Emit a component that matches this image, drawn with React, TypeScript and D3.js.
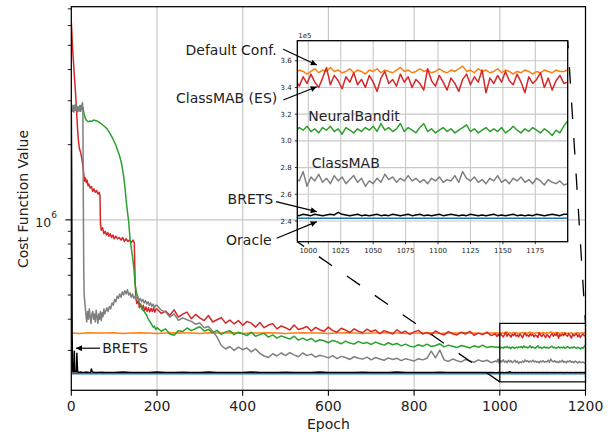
import React from 'react';
import * as d3 from 'd3';

const FONT = '"DejaVu Sans", sans-serif';

// ---------- values (units of 1e5) ----------
const X_TICKS = [0, 200, 400, 600, 800, 1000, 1200];
const INSET_X_TICKS = [1000, 1025, 1050, 1075, 1100, 1125, 1150, 1175];
const INSET_Y_TICKS = [2.4, 2.6, 2.8, 3.0, 3.2, 3.4, 3.6];

const MID_EPOCHS = d3.range(200, 1000, 10);
const ORANGE_EPOCHS = d3.range(0, 1000, 20);
const BRETS_MID_EPOCHS = d3.range(80, 1000, 20);
const INSET_EPOCHS = d3.range(990, 1201, 3);

const RED_EARLY: [number, number][] = [[0,62],[1,58],[2,53],[3,49],[5,43],[7,38],[9,34],[11,30],[13,26],[15,22.5],[17,20.5],[19,19.3],[21,18.8],[23,18.2],[25,17.4],[27,16.5],[29,15.3],[31,14.3],[33,14.7],[35,14.1],[37,14.4],[39,13.7],[41,13.9],[44,13.4],[47,13.6],[50,13.0],[53,13.3],[56,12.9],[59,13.1],[62,12.7],[65,12.9],[67,12.5],[68,9.6],[70,9.1],[73,9.3],[76,8.8],[79,9.0],[82,8.7],[85,8.9],[88,8.6],[91,8.8],[94,8.5],[97,8.7],[100,8.4],[104,8.6],[108,8.4],[112,8.5],[116,8.3],[120,8.5],[124,8.2],[128,8.4],[132,8.2],[136,8.3],[140,8.1],[144,8.3],[147,8.1],[149,5.6],[151,4.8],[153,4.62],[156,4.75],[159,4.45],[162,4.6],[165,4.38],[168,4.55],[171,4.32],[174,4.48],[177,4.3],[180,4.45],[183,4.28],[186,4.42],[189,4.3],[192,4.44],[195,4.27],[198,4.4]];
const RED_MID = [
  4.40, 4.22, 4.31, 4.15, 4.36, 4.08, 4.19, 4.27, 4.02, 4.18,
  4.05, 3.95, 4.14, 3.90, 3.98, 4.06, 3.86, 3.97, 3.83, 3.95,
  3.78, 3.92, 3.86, 3.72, 3.88, 3.70, 3.79, 3.84, 3.66, 3.76,
  3.70, 3.62, 3.79, 3.64, 3.68, 3.74, 3.59, 3.71, 3.63, 3.58,
  3.72, 3.60, 3.55, 3.68, 3.62, 3.54, 3.66, 3.58, 3.53, 3.65,
  3.57, 3.62, 3.50, 3.60, 3.55, 3.49, 3.63, 3.53, 3.58, 3.48,
  3.56, 3.61, 3.49, 3.54, 3.47, 3.59, 3.51, 3.46, 3.57, 3.50,
  3.46, 3.55, 3.49, 3.58, 3.45, 3.52, 3.47, 3.55, 3.44, 3.50,
];
const RED_INSET = [
  3.46, 3.41, 3.48, 3.43, 3.50, 3.44, 3.40, 3.47, 3.55, 3.42,
  3.49, 3.45, 3.39, 3.48, 3.44, 3.51, 3.42, 3.46, 3.40, 3.49,
  3.44, 3.37, 3.47, 3.52, 3.43, 3.46, 3.41, 3.50, 3.44, 3.48,
  3.40, 3.46, 3.43, 3.38, 3.54, 3.45, 3.41, 3.49, 3.44, 3.38,
  3.47, 3.43, 3.37, 3.46, 3.50, 3.42, 3.48, 3.44, 3.53, 3.36,
  3.47, 3.43, 3.49, 3.44, 3.52, 3.45, 3.42, 3.50, 3.44, 3.36,
  3.48, 3.43, 3.46, 3.51, 3.40, 3.47, 3.38, 3.45, 3.49, 3.43,
  3.44,
];

const ORANGE_MAIN = [
  3.52, 3.51, 3.53, 3.52, 3.52, 3.53, 3.51, 3.52, 3.53, 3.52,
  3.51, 3.52, 3.53, 3.52, 3.52, 3.51, 3.53, 3.52, 3.52, 3.53,
  3.51, 3.52, 3.52, 3.53, 3.52, 3.51, 3.52, 3.53, 3.52, 3.52,
  3.51, 3.52, 3.53, 3.52, 3.51, 3.52, 3.52, 3.53, 3.52, 3.51,
  3.52, 3.52, 3.53, 3.51, 3.52, 3.52, 3.53, 3.52, 3.51, 3.52,
];
const ORANGE_INSET = [
  3.51, 3.53, 3.52, 3.50, 3.52, 3.54, 3.51, 3.53, 3.52, 3.55,
  3.52, 3.53, 3.51, 3.52, 3.54, 3.51, 3.53, 3.52, 3.50, 3.53,
  3.52, 3.54, 3.51, 3.53, 3.52, 3.51, 3.53, 3.55, 3.52, 3.53,
  3.51, 3.52, 3.54, 3.52, 3.53, 3.51, 3.52, 3.54, 3.52, 3.51,
  3.53, 3.52, 3.54, 3.56, 3.52, 3.53, 3.51, 3.54, 3.52, 3.53,
  3.51, 3.52, 3.54, 3.51, 3.53, 3.52, 3.50, 3.52, 3.51, 3.53,
  3.52, 3.50, 3.52, 3.51, 3.53, 3.52, 3.51, 3.53, 3.52, 3.52,
  3.53,
];

const GREEN_EARLY: [number, number][] = [[0,28],[3,28.6],[6,27.4],[9,28.9],[12,27.5],[15,28.4],[18,27.2],[21,28.7],[24,27.7],[27,28.3],[30,26.5],[33,25.4],[36,25.0],[40,24.7],[44,24.9],[48,24.8],[52,25.1],[56,25.0],[60,24.9],[64,24.6],[68,24.4],[72,24.1],[77,23.7],[83,23.2],[88,22.5],[92,21.9],[96,21.3],[100,20.6],[104,19.9],[108,19.0],[112,18.2],[116,17.2],[119,16.2],[122,15.0],[125,13.6],[128,12.0],[131,10.8],[134,9.8],[137,8.4],[140,7.7],[143,7.1],[146,6.4],[149,5.5],[152,5.1],[155,4.95],[158,4.7],[161,4.55],[164,4.5],[167,4.35],[170,4.3],[173,4.22],[176,4.15],[179,4.02],[182,3.95],[185,3.88],[188,3.8],[191,3.72],[194,3.76],[197,3.64]];
const GREEN_MID = [
  3.70, 3.58, 3.66, 3.49, 3.45, 3.60, 3.57, 3.69, 3.60, 3.67,
  3.73, 3.59, 3.64, 3.53, 3.61, 3.48, 3.56, 3.60, 3.47, 3.55,
  3.50, 3.44, 3.55, 3.42, 3.47, 3.51, 3.39, 3.46, 3.36, 3.43,
  3.38, 3.33, 3.42, 3.30, 3.36, 3.29, 3.35, 3.25, 3.31, 3.28,
  3.22, 3.29, 3.25, 3.19, 3.27, 3.21, 3.18, 3.26, 3.20, 3.23,
  3.17, 3.24, 3.19, 3.15, 3.22, 3.16, 3.20, 3.13, 3.18, 3.12,
  3.10, 3.16, 3.12, 3.18, 3.11, 3.14, 3.19, 3.10, 3.15, 3.12,
  3.08, 3.14, 3.11, 3.07, 3.13, 3.09, 3.15, 3.08, 3.11, 3.09,
];
const GREEN_INSET = [
  3.07, 3.10, 3.08, 3.11, 3.07, 3.09, 3.06, 3.10, 3.08, 3.11,
  3.07, 3.09, 3.05, 3.10, 3.08, 3.06, 3.09, 3.07, 3.10, 3.08,
  3.11, 3.07, 3.13, 3.08, 3.10, 3.07, 3.09, 3.13, 3.07, 3.10,
  3.08, 3.06, 3.10, 3.13, 3.07, 3.09, 3.06, 3.08, 3.10, 3.07,
  3.09, 3.06, 3.08, 3.10, 3.12, 3.07, 3.09, 3.06, 3.08, 3.10,
  3.07, 3.09, 3.07, 3.10, 3.06, 3.08, 3.11, 3.08, 3.06, 3.09,
  3.07, 3.10, 3.08, 3.06, 3.09, 3.07, 3.04, 3.08, 3.06, 3.11,
  3.15,
];

const GRAY_EARLY: [number, number][] = [[0,28],[2,27.2],[4,28.8],[6,27.0],[8,28.5],[10,27.4],[12,29.0],[14,27.1],[16,28.3],[18,27.5],[20,28.7],[22,27.2],[24,28.4],[26,29.5],[27,28.0],[28,12],[29,6.5],[30,5.0],[32,4.6],[34,4.2],[36,3.9],[38,4.3],[40,4.0],[42,4.4],[44,4.1],[46,3.85],[48,4.2],[50,4.3],[52,4.0],[54,4.2],[56,3.9],[58,4.35],[60,4.1],[62,3.85],[64,4.2],[66,4.0],[68,4.3],[70,3.95],[72,4.25],[74,4.1],[76,4.4],[78,4.2],[80,4.3],[83,4.45],[86,4.3],[89,4.5],[92,4.4],[95,4.65],[98,4.55],[101,4.8],[104,4.7],[107,4.95],[110,4.85],[113,5.05],[116,4.9],[119,5.15],[122,5.0],[125,5.2],[128,5.05],[131,5.25],[134,5.0],[137,5.1],[140,4.9],[143,5.05],[146,4.85],[149,4.95],[152,4.8],[155,4.9],[158,4.75],[161,4.85],[164,4.7],[167,4.8],[170,4.65],[173,4.75],[176,4.6],[179,4.7],[182,4.55],[185,4.65],[188,4.5],[191,4.6],[194,4.45],[197,4.55]];
const GRAY_MID = [
  4.55, 4.34, 4.28, 4.08, 4.20, 3.96, 4.05, 3.98, 3.92, 3.82,
  3.86, 3.70, 3.74, 3.58, 3.40, 3.14, 3.04, 3.11, 3.00, 3.09,
  3.02, 3.07, 2.96, 3.04, 2.92, 2.85, 2.81, 2.91, 2.85, 2.93,
  2.86, 2.94, 2.88, 2.83, 2.93, 2.86, 2.90, 2.82, 2.87, 2.84,
  2.80, 2.86, 2.78, 2.84, 2.81, 2.76, 2.83, 2.79, 2.77, 2.82,
  2.75, 2.81, 2.77, 2.74, 2.80, 2.76, 2.79, 2.73, 2.78, 2.75,
  2.72, 2.78, 2.75, 2.79, 2.98, 2.80, 3.01, 2.75, 2.71, 2.77,
  2.73, 2.70, 2.76, 2.72, 2.69, 2.75, 2.71, 2.74, 2.68, 2.72,
];
const GRAY_INSET = [
  2.72, 2.70, 2.77, 2.66, 2.73, 2.70, 2.75, 2.69, 2.72, 2.68,
  2.74, 2.70, 2.73, 2.68, 2.71, 2.74, 2.69, 2.72, 2.66, 2.70,
  2.68, 2.72, 2.69, 2.75, 2.71, 2.73, 2.69, 2.72, 2.70, 2.74,
  2.70, 2.72, 2.69, 2.71, 2.68, 2.72, 2.70, 2.73, 2.69, 2.71,
  2.70, 2.74, 2.69, 2.77, 2.72, 2.70, 2.73, 2.69, 2.71, 2.68,
  2.72, 2.70, 2.74, 2.69, 2.71, 2.68, 2.72, 2.70, 2.73, 2.69,
  2.71, 2.68, 2.72, 2.70, 2.67, 2.71, 2.69, 2.68, 2.70, 2.67,
  2.68,
];

const BRETS_EARLY: [number, number][] = [[0,28],[1,14],[2,3.4],[3,2.5],[4,2.46],[5,2.47],[6,2.46],[7,2.98],[8,2.52],[9,2.46],[11,2.47],[12,2.46],[13,2.92],[14,2.6],[15,2.46],[18,2.45],[22,2.46],[26,2.45],[30,2.45],[35,2.46],[40,2.45],[45,2.45],[47,2.53],[49,2.46],[55,2.45],[60,2.45],[70,2.455]];
const BRETS_MID = [
  2.45, 2.45, 2.46, 2.45, 2.45, 2.45, 2.46, 2.45, 2.45, 2.455,
  2.45, 2.45, 2.46, 2.45, 2.45, 2.45, 2.45, 2.46, 2.45, 2.45,
  2.45, 2.455, 2.45, 2.45, 2.45, 2.46, 2.45, 2.45, 2.45, 2.45,
  2.455, 2.45, 2.45, 2.45, 2.46, 2.45, 2.45, 2.45, 2.45, 2.455,
  2.45, 2.45, 2.45, 2.45, 2.45, 2.445,
];
const BRETS_INSET = [
  2.445, 2.44, 2.45, 2.445, 2.44, 2.45, 2.445, 2.44, 2.445, 2.45,
  2.445, 2.465, 2.45, 2.445, 2.44, 2.445, 2.45, 2.44, 2.445, 2.44,
  2.445, 2.45, 2.44, 2.445, 2.44, 2.45, 2.445, 2.44, 2.445, 2.45,
  2.44, 2.445, 2.45, 2.44, 2.445, 2.44, 2.445, 2.45, 2.44, 2.445,
  2.45, 2.445, 2.44, 2.445, 2.44, 2.45, 2.445, 2.44, 2.445, 2.44,
  2.445, 2.45, 2.44, 2.445, 2.44, 2.445, 2.45, 2.44, 2.445, 2.44,
  2.445, 2.44, 2.45, 2.445, 2.44, 2.445, 2.45, 2.445, 2.44, 2.45,
  2.45,
];

const ORACLE: [number, number][] = [[0, 2.42], [1200, 2.42]];

// zoom box (epochs / values)
const ZOOM_BOX = { x0: 1000, x1: 1200, v0: 2.245e5, v1: 3.85e5 };

// annotations: text in main data coords, arrow head in inset data coords
const NOTES = [
  { text: 'Default Conf.', tx: 479.3, tv: 4.576e6, tail: [494.7, 4.82e6], head: [1006.5, 3.568] },
  { text: 'ClassMAB (ES)', tx: 480.7, tv: 2.948e6, tail: [494.7, 3.022e6], head: [1006.5, 3.405] },
  { text: 'BRETS', tx: 471.2, tv: 1.158e6, tail: [477.6, 1.183e6], head: [1006.5, 2.47] },
  { text: 'Oracle', tx: 467.6, tv: 7.93e5, tail: [479.3, 8.44e5], head: [1006.5, 2.395] },
];
const INSET_NOTES = [
  { text: 'NeuralBandit', ex: 1000, v: 3.152 },
  { text: 'ClassMAB', ex: 1002.6, v: 2.795 },
];
const MAIN_NOTE = { text: 'BRETS', tx: 72.3, tv: 2.923e5, tail: [67, 3.062e5], head: [11, 3.062e5] };

// ---------- styles ----------
const STYLE: Record<string, string> = {
  default: '#ff7f0e', es: '#d62728', neural: '#2ca02c', classmab: '#7f7f7f', brets: '#000000', oracle: '#1f77b4',
};

const zip = (es: number[], vs: number[]): [number, number][] => es.map((e, i) => [e, vs[i]]);

const SERIES = [
  { key: 'default', main: [...zip(ORANGE_EPOCHS, ORANGE_MAIN), ...zip(INSET_EPOCHS, ORANGE_INSET).slice(1)], inset: zip(INSET_EPOCHS, ORANGE_INSET) },
  { key: 'es', main: [...RED_EARLY, ...zip(MID_EPOCHS, RED_MID), ...zip(INSET_EPOCHS, RED_INSET).slice(1)], inset: zip(INSET_EPOCHS, RED_INSET) },
  { key: 'neural', main: [...GREEN_EARLY, ...zip(MID_EPOCHS, GREEN_MID), ...zip(INSET_EPOCHS, GREEN_INSET).slice(1)], inset: zip(INSET_EPOCHS, GREEN_INSET) },
  { key: 'classmab', main: [...GRAY_EARLY, ...zip(MID_EPOCHS, GRAY_MID), ...zip(INSET_EPOCHS, GRAY_INSET).slice(1)], inset: zip(INSET_EPOCHS, GRAY_INSET) },
  { key: 'brets', main: [...BRETS_EARLY, ...zip(BRETS_MID_EPOCHS, BRETS_MID), ...zip(INSET_EPOCHS, BRETS_INSET).slice(1)], inset: zip(INSET_EPOCHS, BRETS_INSET) },
  { key: 'oracle', main: ORACLE, inset: ORACLE },
];

export default function App() {
  const W = 613, H = 435;
  const L = 71.3, R = 585.5, T = 6.7, B = 390.3;
  const x = d3.scaleLinear().domain([0, 1200]).range([L, R]);
  const y = d3.scaleLog().domain([2.077e5, 7.14e6]).range([B, T]);
  const IL = 297.3, IR = 567.7, IT = 40.7, IB = 241.7;
  const ix = d3.scaleLinear().domain([991.5, 1200]).range([IL, IR]);
  const iy = d3.scaleLinear().domain([2.245, 3.75]).range([IB, IT]);

  const mainLine = d3.line<[number, number]>().x(d => x(d[0])).y(d => y(d[1] * 1e5));
  const insetLine = d3.line<[number, number]>().x(d => ix(d[0])).y(d => iy(d[1]));

  const minor = [2e5, 3e5, 4e5, 5e5, 6e5, 7e5, 8e5, 9e5, 2e6, 3e6, 4e6, 5e6, 6e6, 7e6]
    .filter(v => v >= y.domain()[0] && v <= y.domain()[1]);
  const grid = '#c8c8c8';

  const bx0 = x(ZOOM_BOX.x0), bx1 = x(ZOOM_BOX.x1), by0 = y(ZOOM_BOX.v0), by1 = y(ZOOM_BOX.v1);

  return (
    <svg width={W} height={H} style={{ position: 'absolute', left: 0, top: 0, background: '#fff' }} fontFamily={FONT}>
      <defs>
        <clipPath id="mainClip"><rect x={L} y={T} width={R - L} height={B - T} /></clipPath>
        <clipPath id="insetClip"><rect x={IL} y={IT} width={IR - IL} height={IB - IT} /></clipPath>
        <marker id="arr" viewBox="0 0 10 10" refX="10" refY="5" markerWidth="8" markerHeight="6" markerUnits="userSpaceOnUse" orient="auto">
          <path d="M0,0 L10,5 L0,10 z" fill="#000" />
        </marker>
      </defs>
      <rect x={0} y={0} width={W} height={H} fill="#fff" />

      {/* main grid */}
      {X_TICKS.slice(1, -1).map(t => (
        <line key={'gx' + t} x1={x(t)} x2={x(t)} y1={T} y2={B} stroke={grid} strokeWidth={1.2} />
      ))}
      <line x1={L} x2={R} y1={y(1e6)} y2={y(1e6)} stroke={grid} strokeWidth={1.2} />

      {/* main series */}
      <g clipPath="url(#mainClip)">
        {SERIES.map(s => (
          <path key={s.key} d={mainLine(s.main as [number, number][]) || ''} fill="none" stroke={STYLE[s.key]} strokeWidth={1.5} strokeLinejoin="round" />
        ))}
      </g>

      {/* main spines and ticks */}
      <rect x={L} y={T} width={R - L} height={B - T} fill="none" stroke="#000" strokeWidth={1.25} />
      {X_TICKS.map(t => (
        <g key={'xt' + t}>
          <line x1={x(t)} x2={x(t)} y1={B} y2={B + 5.5} stroke="#000" strokeWidth={1.1} />
          <text x={x(t)} y={410.7} fontSize={14} textAnchor="middle" fill="#222">{t}</text>
        </g>
      ))}
      {minor.map(v => (
        <line key={'ym' + v} x1={L - 3.5} x2={L} y1={y(v)} y2={y(v)} stroke="#000" strokeWidth={0.9} />
      ))}
      <line x1={L - 6} x2={L} y1={y(1e6)} y2={y(1e6)} stroke="#000" strokeWidth={1.1} />
      <text x={57} y={y(1e6) + 6.8} fontSize={12.5} textAnchor="end" fill="#222">
        10<tspan fontSize={9} dy={-8.4}>6</tspan>
      </text>
      <text x={x(600)} y={429} fontSize={14} textAnchor="middle" fill="#222">Epoch</text>
      <text transform={`translate(28,199) rotate(-90)`} fontSize={14} textAnchor="middle" fill="#222">Cost Function Value</text>

      {/* zoom box + connectors */}
      <rect x={bx0} y={by1} width={bx1 - bx0} height={by0 - by1} fill="none" stroke="#000" strokeWidth={1.2} />
      <line x1={bx0} y1={by0} x2={IL} y2={IB} stroke="#000" strokeWidth={1.3} strokeDasharray="16,18" />
      <line x1={IR} y1={IT} x2={bx1} y2={by1} stroke="#000" strokeWidth={1.3} strokeDasharray="16.5,19" strokeDashoffset={9} />

      {/* inset */}
      <rect x={IL} y={IT} width={IR - IL} height={IB - IT} fill="#fff" />
      {INSET_X_TICKS.map(t => (
        <line key={'igx' + t} x1={ix(t)} x2={ix(t)} y1={IT} y2={IB} stroke={grid} strokeWidth={1.1} />
      ))}
      {INSET_Y_TICKS.map(t => (
        <line key={'igy' + t} x1={IL} x2={IR} y1={iy(t)} y2={iy(t)} stroke={grid} strokeWidth={1.1} />
      ))}
      <g clipPath="url(#insetClip)">
        {SERIES.map(s => (
          <path key={'i' + s.key} d={insetLine(s.inset as [number, number][]) || ''} fill="none" stroke={STYLE[s.key]} strokeWidth={1.5} strokeLinejoin="round" />
        ))}
      </g>
      <rect x={IL} y={IT} width={IR - IL} height={IB - IT} fill="none" stroke="#000" strokeWidth={1.3} />
      {INSET_X_TICKS.map(t => (
        <g key={'ixt' + t}>
          <line x1={ix(t)} x2={ix(t)} y1={IB} y2={IB + 2.5} stroke="#000" strokeWidth={0.8} />
          <text x={ix(t)} y={252.6} fontSize={7} textAnchor="middle" fill="#222">{t}</text>
        </g>
      ))}
      {INSET_Y_TICKS.map(t => (
        <g key={'iyt' + t}>
          <line x1={IL - 2.5} x2={IL} y1={iy(t)} y2={iy(t)} stroke="#000" strokeWidth={0.8} />
          <text x={291.7} y={iy(t) + 2.6} fontSize={7} textAnchor="end" fill="#222">{t.toFixed(1)}</text>
        </g>
      ))}
      <text x={298.3} y={37.5} fontSize={7} fill="#222">1e5</text>

      {/* annotations */}
      {NOTES.map(n => (
        <g key={n.text}>
          <text x={x(n.tx)} y={y(n.tv)} fontSize={14} textAnchor="end" fill="#222">{n.text}</text>
          <line x1={x(n.tail[0])} y1={y(n.tail[1])} x2={ix(n.head[0])} y2={iy(n.head[1])} stroke="#000" strokeWidth={1.2} markerEnd="url(#arr)" />
        </g>
      ))}
      {INSET_NOTES.map(n => (
        <text key={n.text} x={ix(n.ex)} y={iy(n.v)} fontSize={14} fill="#222">{n.text}</text>
      ))}
      <text x={x(MAIN_NOTE.tx)} y={y(MAIN_NOTE.tv)} fontSize={14} fill="#222">{MAIN_NOTE.text}</text>
      <line x1={x(MAIN_NOTE.tail[0])} y1={y(MAIN_NOTE.tail[1])} x2={x(MAIN_NOTE.head[0])} y2={y(MAIN_NOTE.head[1])} stroke="#000" strokeWidth={1.2} markerEnd="url(#arr)" />
    </svg>
  );
}
